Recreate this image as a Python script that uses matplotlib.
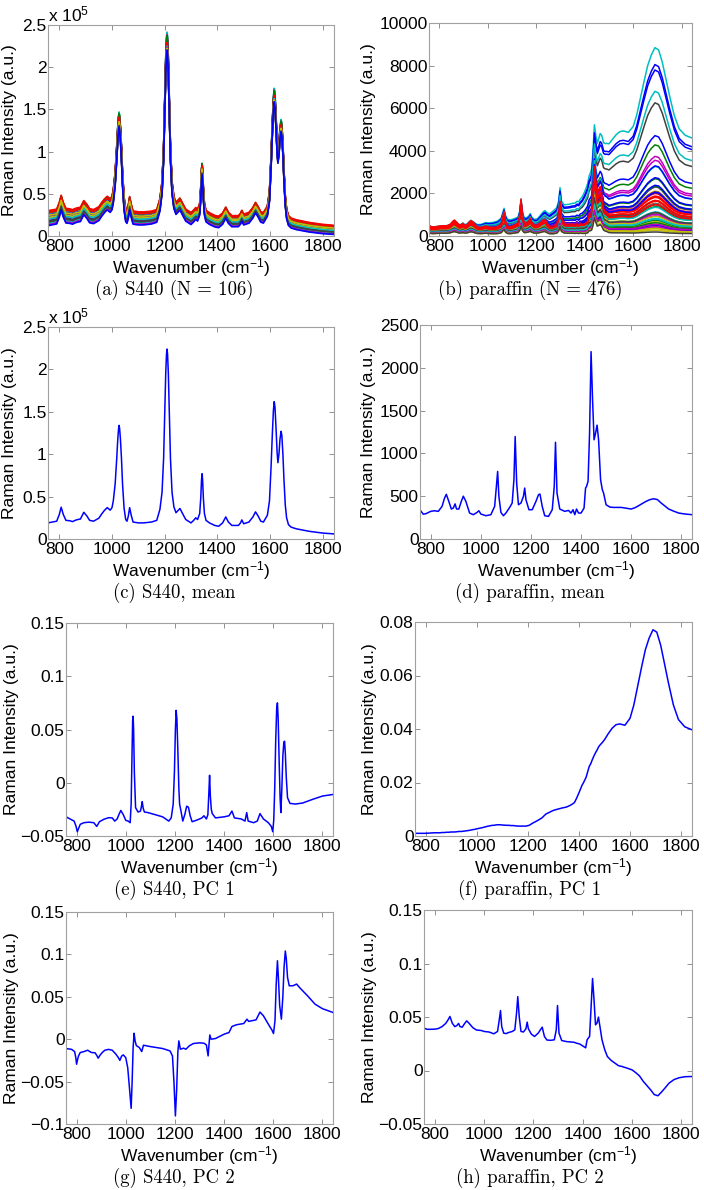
import numpy as np
import matplotlib.pyplot as plt
from matplotlib.ticker import FuncFormatter

plt.rcParams['font.family'] = ['Liberation Sans', 'DejaVu Sans']
plt.rcParams['mathtext.fontset'] = 'custom'
plt.rcParams['mathtext.rm'] = 'Liberation Sans'
plt.rcParams['mathtext.it'] = 'Liberation Sans:italic'
plt.rcParams['mathtext.bf'] = 'Liberation Sans:bold'

# ---- S440: mean spectrum (x 1e5) ----
s440_mean_wn = [757, 790, 800, 807, 815, 825, 840, 850, 860, 870, 880, 893, 905, 915, 930,
                950, 962, 972, 982, 993, 1000, 1005, 1012, 1018, 1022, 1025, 1027, 1029,
                1032, 1036, 1040, 1046, 1052, 1057, 1062, 1067, 1073, 1080, 1100, 1120, 1150,
                1170, 1182, 1190, 1196, 1200, 1204, 1207, 1209, 1211, 1214, 1218, 1222, 1228,
                1235, 1243, 1252, 1258, 1268, 1280, 1300, 1310, 1318, 1325, 1333, 1337, 1340,
                1342, 1344, 1347, 1351, 1357, 1370, 1390, 1405, 1420, 1432, 1442, 1455, 1480,
                1488, 1493, 1500, 1520, 1535, 1545, 1555, 1565, 1575, 1590, 1598, 1604, 1609,
                1613, 1616, 1619, 1623, 1627, 1630, 1634, 1638, 1642, 1645, 1649, 1653, 1658,
                1663, 1670, 1680, 1700, 1750, 1800, 1843]
s440_mean_e5 = [0.19, 0.21, 0.29, 0.375, 0.29, 0.22, 0.215, 0.205, 0.22, 0.23, 0.235, 0.315,
                0.27, 0.22, 0.21, 0.245, 0.30, 0.34, 0.37, 0.34, 0.37, 0.45, 0.65, 0.95, 1.18,
                1.30, 1.34, 1.30, 1.18, 0.95, 0.65, 0.36, 0.23, 0.21, 0.27, 0.37, 0.28, 0.20,
                0.19, 0.19, 0.20, 0.22, 0.35, 0.55, 0.95, 1.45, 1.95, 2.18, 2.24, 2.18, 1.95,
                1.45, 0.95, 0.55, 0.38, 0.31, 0.34, 0.36, 0.30, 0.23, 0.19, 0.22, 0.25, 0.23,
                0.30, 0.48, 0.70, 0.77, 0.70, 0.48, 0.30, 0.22, 0.19, 0.16, 0.15, 0.19, 0.26,
                0.20, 0.16, 0.16, 0.19, 0.225, 0.18, 0.20, 0.26, 0.32, 0.27, 0.21, 0.20, 0.28,
                0.45, 0.85, 1.25, 1.52, 1.62, 1.55, 1.30, 1.02, 0.90, 1.00, 1.18, 1.27, 1.22,
                1.00, 0.70, 0.40, 0.25, 0.17, 0.14, 0.12, 0.09, 0.07, 0.06]

# ---- S440: PC 1 ----
s440_pc1_wn = [757, 790, 798, 803, 808, 815, 830, 850, 870, 882, 893, 910, 930, 945, 955, 965,
               972, 980, 990, 1000, 1010, 1018, 1022, 1025, 1028, 1030, 1032, 1035, 1040, 1050,
               1060, 1064, 1067, 1071, 1076, 1090, 1120, 1150, 1175, 1185, 1193, 1198, 1202,
               1205, 1208, 1212, 1216, 1219, 1225, 1232, 1240, 1248, 1255, 1262, 1270, 1290,
               1310, 1318, 1328, 1334, 1338, 1341, 1344, 1348, 1352, 1365, 1400, 1420, 1432,
               1442, 1470, 1485, 1492, 1498, 1520, 1535, 1546, 1560, 1580, 1592, 1598, 1602,
               1606, 1610, 1614, 1617, 1620, 1624, 1628, 1631, 1635, 1639, 1643, 1646, 1649,
               1653, 1658, 1668, 1690, 1720, 1760, 1800, 1843]
s440_pc1 = [-0.032, -0.036, -0.041, -0.046, -0.043, -0.039, -0.0375, -0.037, -0.0375, -0.041,
            -0.0366, -0.0344, -0.0328, -0.033, -0.036, -0.034, -0.030, -0.026, -0.030, -0.0353,
            -0.036, -0.0375, -0.020, 0.020, 0.058, 0.0625, 0.050, 0.010, -0.0234, -0.0275,
            -0.0266, -0.022, -0.0178, -0.024, -0.0275, -0.028, -0.030, -0.032, -0.036, -0.033,
            -0.020, 0.010, 0.050, 0.068, 0.060, 0.030, -0.005, -0.020, -0.027, -0.036, -0.030,
            -0.022, -0.023, -0.031, -0.0366, -0.035, -0.033, -0.031, -0.034, -0.030, -0.010,
            0.007, -0.012, -0.025, -0.029, -0.033, -0.032, -0.031, -0.0266, -0.033, -0.034,
            -0.036, -0.028, -0.036, -0.0375, -0.036, -0.029, -0.034, -0.0375, -0.041, -0.046,
            -0.035, -0.005, 0.040, 0.070, 0.075, 0.060, 0.020, -0.015, -0.028, -0.005, 0.025,
            0.038, 0.039, 0.028, 0.005, -0.014, -0.0194, -0.020, -0.019, -0.0156, -0.0125,
            -0.011]

# ---- S440: PC 2 ----
s440_pc2_wn = [757, 780, 792, 797, 800, 804, 808, 815, 830, 845, 860, 875, 882, 888, 895, 905,
               915, 930, 945, 960, 970, 976, 983, 990, 1000, 1008, 1015, 1022, 1026, 1030, 1034,
               1038, 1043, 1055, 1065, 1072, 1100, 1150, 1180, 1190, 1196, 1202, 1207, 1212,
               1216, 1222, 1235, 1245, 1258, 1275, 1300, 1318, 1328, 1335, 1339, 1342, 1347,
               1365, 1400, 1420, 1432, 1450, 1480, 1493, 1500, 1530, 1546, 1560, 1580, 1595,
               1601, 1607, 1612, 1617, 1621, 1626, 1633, 1639, 1644, 1649, 1653, 1658, 1665,
               1680, 1695, 1710, 1740, 1770, 1800, 1843]
s440_pc2 = [-0.011, -0.012, -0.0146, -0.022, -0.0295, -0.024, -0.0197, -0.0157, -0.0146, -0.013,
            -0.0157, -0.016, -0.019, -0.0224, -0.019, -0.0155, -0.013, -0.012, -0.013, -0.0177,
            -0.0217, -0.025, -0.020, -0.0185, -0.0217, -0.0335, -0.057, -0.0815, -0.050, -0.010,
            0.007, -0.002, -0.0075, -0.0098, -0.0146, -0.0071, -0.0087, -0.011, -0.0138, -0.0197,
            -0.050, -0.0905, -0.060, -0.015, -0.002, -0.0118, -0.0106, -0.0118, -0.0079, -0.0051,
            -0.0043, -0.0047, -0.0067, -0.0197, -0.005, 0.005, 0.000, 0.0008, 0.0059, 0.0079,
            0.015, 0.017, 0.0185, 0.0236, 0.021, 0.0228, 0.032, 0.0276, 0.0177, 0.0106, 0.0067,
            0.0217, 0.065, 0.0925, 0.072, 0.040, 0.0236, 0.050, 0.085, 0.104, 0.095, 0.073,
            0.063, 0.063, 0.065, 0.060, 0.051, 0.0413, 0.036, 0.0315]

# ---- S440 raw spectra: per-spectrum scale and baseline offset (x 1e5) ----
s440_scale = [1.06, 1.07, 1.00, 1.05, 1.04, 0.98, 1.00, 0.97, 1.02, 1.01, 1.03,
              1.05, 0.99, 0.98, 1.00, 1.03, 0.99, 1.00, 1.02, 0.97, 0.99, 1.01]
s440_offset = [-0.02, 0.02, 0.11, 0.07, 0.00, -0.03, 0.09, 0.05, -0.04, 0.10, -0.05,
               0.04, 0.03, -0.01, 0.06, 0.08, 0.09, 0.01, -0.06, 0.06, -0.02, -0.07]

# ---- paraffin: mean, PC 1, PC 2 on one wavenumber grid ----
par_wn = [757, 770, 780, 800, 815, 830, 845, 855, 862, 872,
          882, 890, 897, 903, 912, 922, 930, 940, 955, 970,
          985, 992, 1000, 1020, 1040, 1055, 1062, 1067, 1072, 1080,
          1090, 1100, 1115, 1125, 1132, 1137, 1143, 1150, 1160, 1170,
          1175, 1180, 1192, 1205, 1220, 1230, 1236, 1245, 1255, 1270,
          1285, 1293, 1298, 1304, 1315, 1335, 1350, 1360, 1368, 1375,
          1382, 1390, 1400, 1412, 1418, 1422, 1428, 1434, 1440, 1446,
          1452, 1458, 1464, 1470, 1478, 1485, 1490, 1500, 1515, 1530,
          1545, 1560, 1580, 1600, 1615, 1630, 1645, 1660, 1675, 1690,
          1705, 1720, 1735, 1750, 1770, 1790, 1815, 1843]
par_mean = [340, 290, 295, 323, 330, 323, 381, 478, 522, 440,
            350, 362, 410, 350, 350, 440, 500, 440, 303, 284,
            311, 330, 292, 272, 284, 381, 614, 789, 498, 311,
            272, 303, 369, 420, 692, 1197, 653, 400, 420, 498,
            595, 459, 342, 342, 440, 517, 525, 381, 272, 264,
            342, 614, 1130, 537, 350, 323, 334, 303, 342, 284,
            350, 303, 303, 362, 595, 614, 673, 1236, 2189, 1625,
            1159, 1236, 1330, 1159, 692, 575, 537, 400, 373, 369,
            369, 369, 360, 350, 365, 389, 415, 440, 460, 470,
            460, 420, 385, 350, 325, 303, 292, 284]
par_pc1 = [0.0010, 0.0010, 0.0010, 0.0010, 0.0011, 0.0012, 0.0012, 0.0012, 0.0013, 0.0013,
           0.0014, 0.0014, 0.0015, 0.0015, 0.0015, 0.0016, 0.0017, 0.0017, 0.0019, 0.0021,
           0.0024, 0.0025, 0.0027, 0.0031, 0.0036, 0.0039, 0.0040, 0.0040, 0.0041, 0.0042,
           0.0042, 0.0041, 0.0040, 0.0040, 0.0039, 0.0039, 0.0039, 0.0038, 0.0037, 0.0037,
           0.0037, 0.0037, 0.0037, 0.0040, 0.0049, 0.0054, 0.0057, 0.0062, 0.0068, 0.0082,
           0.0089, 0.0093, 0.0095, 0.0097, 0.0100, 0.0105, 0.0108, 0.0112, 0.0116, 0.0120,
           0.0125, 0.0140, 0.0162, 0.0190, 0.0200, 0.0208, 0.0220, 0.0240, 0.0260, 0.0270,
           0.0285, 0.0298, 0.0310, 0.0320, 0.0335, 0.0343, 0.0348, 0.0360, 0.0383, 0.0403,
           0.0416, 0.0419, 0.0414, 0.0440, 0.0490, 0.0560, 0.0630, 0.0696, 0.0740, 0.0771,
           0.0762, 0.0714, 0.0645, 0.0575, 0.0490, 0.0435, 0.0408, 0.0397]
par_pc2 = [0.0396, 0.0385, 0.0385, 0.0386, 0.0392, 0.0410, 0.0440, 0.0475, 0.0505, 0.0440,
           0.0410, 0.0420, 0.0440, 0.0410, 0.0405, 0.0440, 0.0464, 0.0440, 0.0400, 0.0378,
           0.0375, 0.0372, 0.0365, 0.0360, 0.0343, 0.0365, 0.0473, 0.0560, 0.0410, 0.0349,
           0.0345, 0.0355, 0.0365, 0.0380, 0.0536, 0.0690, 0.0500, 0.0365, 0.0360, 0.0390,
           0.0452, 0.0390, 0.0340, 0.0318, 0.0350, 0.0385, 0.0405, 0.0318, 0.0285, 0.0282,
           0.0287, 0.0380, 0.0607, 0.0350, 0.0280, 0.0270, 0.0267, 0.0265, 0.0262, 0.0255,
           0.0252, 0.0245, 0.0230, 0.0212, 0.0287, 0.0300, 0.0318, 0.0590, 0.0860, 0.0660,
           0.0427, 0.0443, 0.0499, 0.0410, 0.0290, 0.0230, 0.0190, 0.0131, 0.0095, 0.0070,
           0.0045, 0.0037, 0.0022, 0.0006, -0.0020, -0.0050, -0.0100, -0.0140, -0.0180, -0.0225,
           -0.0236, -0.0200, -0.0160, -0.0118, -0.0085, -0.0068, -0.0058, -0.0056]

# ---- paraffin raw spectra: scale of the mean and PC 1 score (x 1e3) ----
par_scale = [1.0, 0.9, 1.3, 1.1, 1.0, 1.2, 1.0,
             1.05, 0.8, 1.4, 1.0, 0.9, 0.9, 0.8,
             1.0, 0.7, 1.3, 1.2, 0.8, 0.6, 1.2,
             1.1, 1.0, 1.3, 0.9, 0.7, 1.0, 0.6,
             0.9, 0.6, 1.2, 0.7, 1.1, 0.5, 0.9,
             0.8, 0.5, 1.2, 0.6, 0.6, 0.4, 1.0,
             0.9, 0.8, 1.1, 0.9, 0.7, 0.8, 0.7,
             0.6, 0.5, 1.0, 0.6, 0.5, 0.4, 0.4]
par_score = [95, 50, 12, 108, 40, 20, 75,
             98, 30, 15, 82, 43, 16, 22,
             55, 10, 18, 35, 25, 5, 12,
             36, 24, 16, 14, 8, 8, 3,
             30, 6, 17, 6, 20, 2, 16,
             26, 4, 14, 11, 2, 1, 13,
             21, 13, 15, 12, 9, 7, 10,
             3, 5, 13, 7, 4, 2, 0]

matlab_colors = ['#0000ff', '#008000', '#ff0000', '#00bfbf', '#bf00bf', '#bfbf00', '#404040']
xticks = [800, 1000, 1200, 1400, 1600, 1800]
FS = 12.5
W, H = 704, 1190


def fx(px):
    return px / W


def fy(py):
    return 1 - py / H


fig = plt.figure(figsize=(W / 100, H / 100), dpi=100)


def panel(box, ylab_x, yticks, caption, cap_x, mult=False):
    l, t, r, b = box
    ax = fig.add_axes([fx(l), fy(b), (r - l) / W, (b - t) / H])
    ax.set_xlim(757, 1843)
    ax.set_ylim(yticks[0], yticks[-1])
    ax.set_xticks(xticks)
    ax.set_yticks(yticks)
    ax.yaxis.set_major_formatter(FuncFormatter(lambda v, p: ('%g' % v).replace('-', '\u2212')))
    ax.tick_params(direction='in', top=True, right=True, length=3.5, width=0.6,
                   color='#808080', labelsize=FS)
    ax.tick_params(axis='x', pad=2.5)
    ax.tick_params(axis='y', pad=1.0)
    for s in ax.spines.values():
        s.set_color('#a0a0a0')
        s.set_linewidth(0.8)
    fig.text(fx((l + r) / 2), fy(b + 32), 'Wavenumber (cm$^{-1}$)', ha='center', va='center',
             fontsize=FS)
    fig.text(fx(ylab_x), fy((t + b) / 2), 'Raman Intensity (a.u.)', rotation=90,
             ha='center', va='center', fontsize=FS)
    fig.text(fx(cap_x), fy(b + 54), caption, ha='center', va='center', fontsize=13.5,
             family='cmr10')
    if mult:
        ax.text(0.0, 1.005, 'x 10$^{5}$', transform=ax.transAxes, ha='left', va='bottom',
                fontsize=FS)
    return ax


# (a) S440 raw spectra
ax = panel((48, 25, 334, 236), 10, [0, 0.5, 1, 1.5, 2, 2.5],
           '(a) S440 (N = 106)', 174, mult=True)
wn_a = np.array(s440_mean_wn)
ramp = np.interp(wn_a, [757, 1843], [1.0, 0.6])
for i, (sc, off) in enumerate(zip(s440_scale, s440_offset)):
    ax.plot(wn_a, sc * np.array(s440_mean_e5) + off * ramp,
            color=matlab_colors[i % 7], lw=1.2)

# (b) paraffin raw spectra
ax = panel((429, 23, 692, 236), 369, [0, 2000, 4000, 6000, 8000, 10000],
           '(b) paraffin (N = 476)', 530)
for i, (sc, sco) in enumerate(zip(par_scale, par_score)):
    ax.plot(par_wn, sc * np.array(par_mean) + sco * 1e3 * np.array(par_pc1),
            color=matlab_colors[i % 7], lw=1.1)

# (c) S440 mean
ax = panel((48, 327, 334, 539), 10, [0, 0.5, 1, 1.5, 2, 2.5],
           '(c) S440, mean', 174, mult=True)
ax.plot(s440_mean_wn, s440_mean_e5, color='#0000ff', lw=1.1)

# (d) paraffin mean
ax = panel((420, 325, 692, 539), 369, [0, 500, 1000, 1500, 2000, 2500],
           '(d) paraffin, mean', 530)
ax.plot(par_wn, par_mean, color='#0000ff', lw=1.1)

# (e) S440 PC 1
ax = panel((66, 623, 333, 836), 12, [-0.05, 0, 0.05, 0.1, 0.15],
           '(e) S440, PC 1', 174)
ax.plot(s440_pc1_wn, s440_pc1, color='#0000ff', lw=1.1)

# (f) paraffin PC 1
ax = panel((415, 622, 692, 836), 370, [0, 0.02, 0.04, 0.06, 0.08],
           '(f) paraffin, PC 1', 530)
ax.plot(par_wn, par_pc1, color='#0000ff', lw=1.1)

# (g) S440 PC 2
ax = panel((66, 912, 333, 1124), 12, [-0.1, -0.05, 0, 0.05, 0.1, 0.15],
           '(g) S440, PC 2', 174)
ax.plot(s440_pc2_wn, s440_pc2, color='#0000ff', lw=1.1)

# (h) paraffin PC 2
ax = panel((424, 910, 692, 1124), 370, [-0.05, 0, 0.05, 0.1, 0.15],
           '(h) paraffin, PC 2', 530)
ax.plot(par_wn, par_pc2, color='#0000ff', lw=1.1)

fig.savefig('out.png', dpi=100)
